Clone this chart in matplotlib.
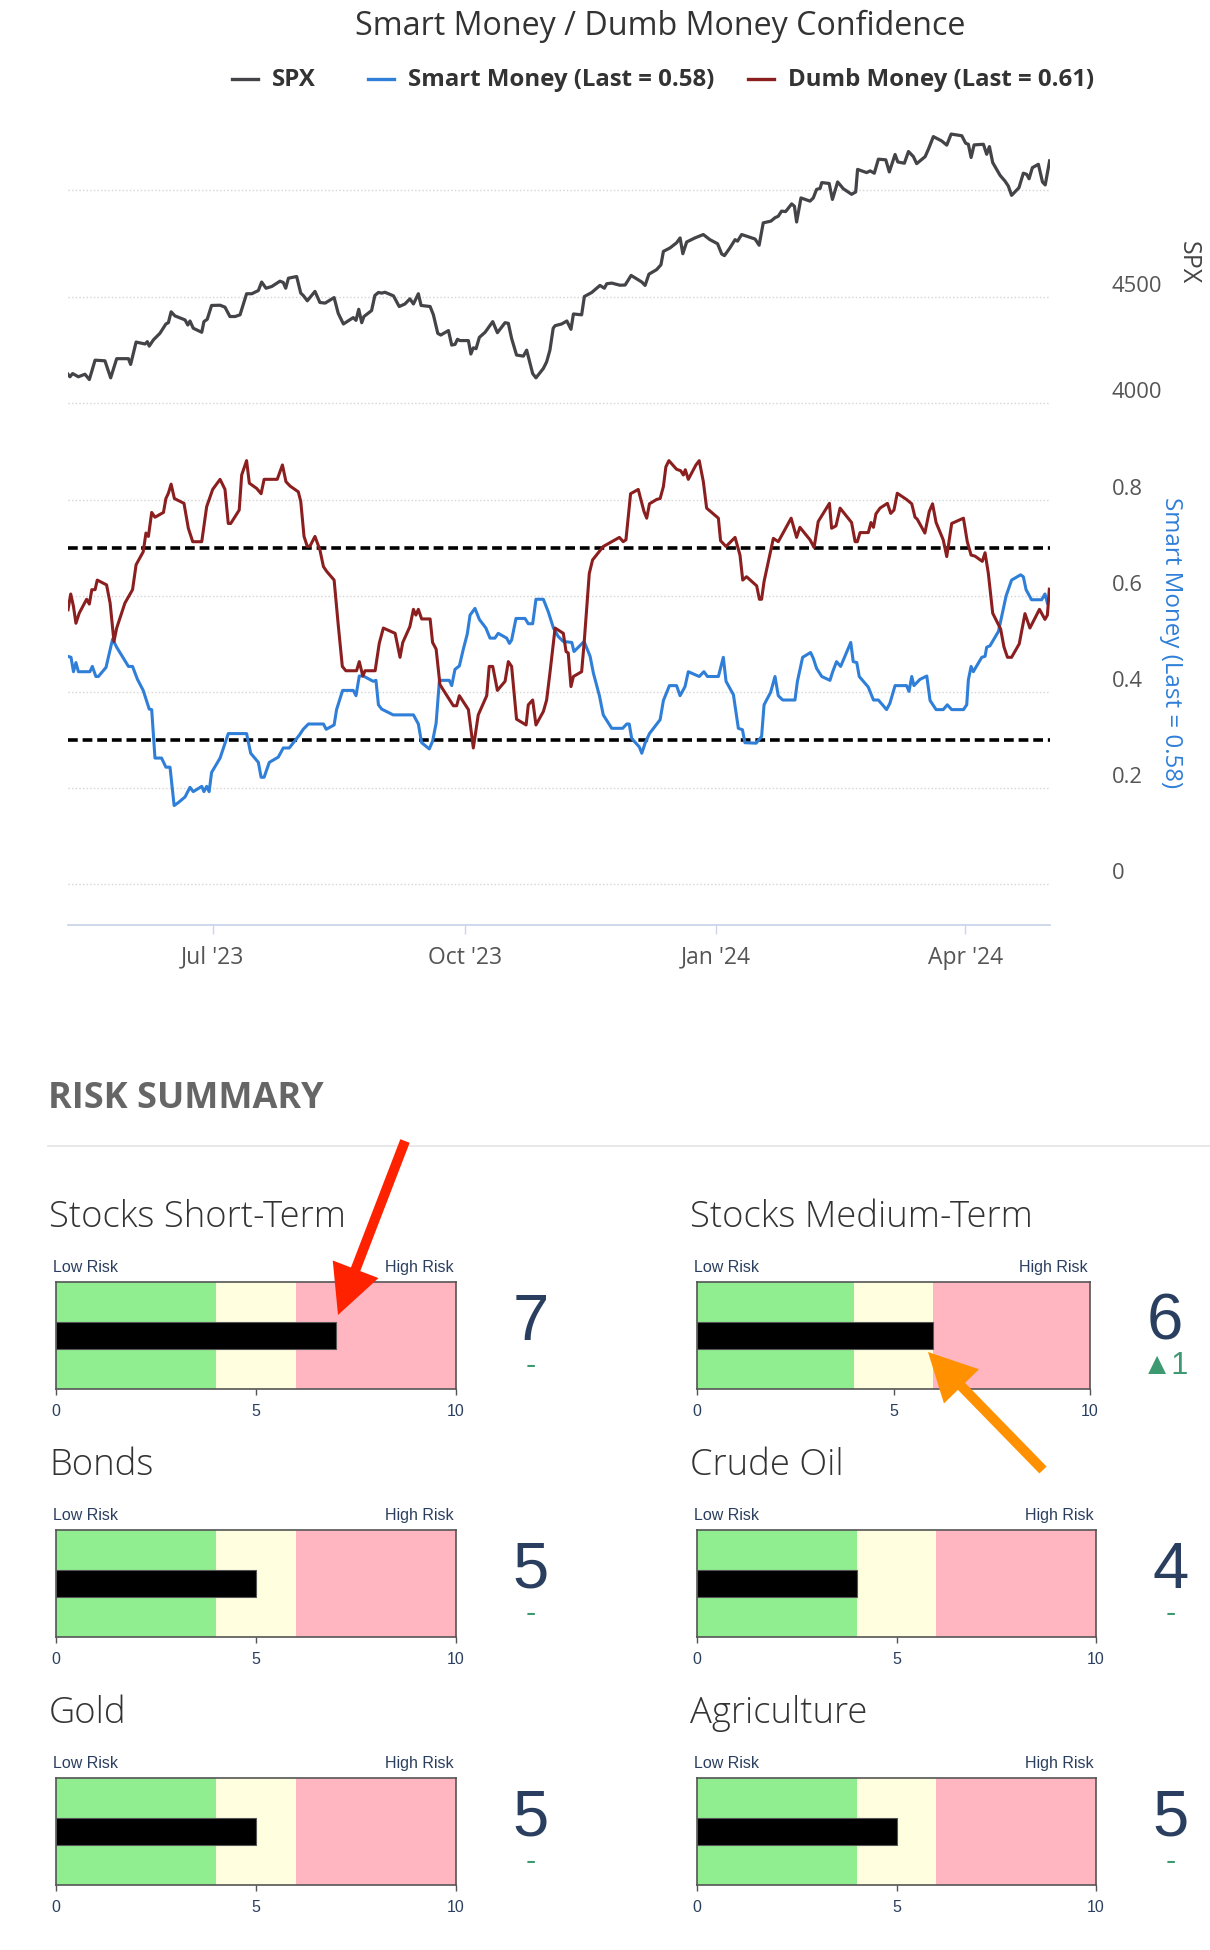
import numpy as np
import matplotlib
matplotlib.use("Agg")
import matplotlib.pyplot as plt
import matplotlib.dates as mdates
from matplotlib.patches import FancyArrow
from matplotlib.lines import Line2D

W, H = 1210, 1950
start = np.datetime64("2023-05-09")

# days after start / values
spx_day = [0.0, 0.7, 1.7, 3.8, 6.2, 7.8, 9.9, 13.5, 15.6, 17.8, 22.1, 22.9, 24.9, 28.2, 29.0, 29.7,
           31.2, 33.6, 35.8, 36.7, 37.7, 39.1, 42.8, 43.8, 44.6, 45.8, 48.9, 49.7, 50.9, 52.5, 55.6,
           57.4, 59.2, 61.1, 62.9, 65.3, 67.2, 69.6, 70.8, 72.4, 74.5, 77.5, 78.7, 79.6, 80.6, 83.6,
           85.1, 86.0, 87.5, 90.3, 92.1, 94.0, 97.3, 98.8, 100.7, 104.3, 105.3, 106.3, 107.4, 108.2,
           111.0, 112.2, 113.5, 114.7, 115.9, 119.0, 121.1, 123.2, 125.0, 126.3, 128.1, 129.1, 132.4,
           133.6, 135.2, 136.3, 139.1, 140.3, 141.5, 142.4, 143.3, 146.4, 147.3, 148.2, 149.2, 150.4,
           152.5, 155.3, 157.0, 159.8, 161.0, 162.2, 164.0, 166.5, 167.7, 169.9, 171.1, 173.8, 175.0,
           176.2, 177.4,
           178.1, 180.5, 182.4, 183.9, 184.8, 187.8, 188.8, 191.5, 194.5, 196.1, 197.0, 198.8, 201.8,
           203.7, 205.9, 209.8, 211.0, 212.4, 215.2, 216.8, 217.7, 220.1, 222.5, 223.8, 224.8, 226.2,
           229.2, 232.3, 234.7, 237.5, 239.0, 240.0, 242.0, 243.9, 244.8, 246.3, 247.5, 251.2, 252.7,
           254.2, 257.0, 258.5, 259.7, 260.9, 262.4, 264.6, 265.6, 266.4, 268.0, 271.3, 272.5, 273.7,
           275.0, 275.6, 278.3, 279.5, 281.4, 283.5, 286.5, 288.0, 288.7, 292.0, 293.3, 294.8, 296.3,
           299.0, 300.3, 302.4, 303.4, 305.8, 307.3, 309.1, 310.3, 313.4, 314.6, 316.4, 319.4, 321.3,
           322.9, 326.8, 328.2, 329.2, 330.2, 331.3, 334.7, 335.9, 336.9, 338.1, 340.8, 342.6, 343.8,
           345.0, 347.7, 349.3, 350.5, 351.4, 352.6, 354.8, 356.3, 357.3, 358.9]
spx = [4135, 4123, 4138, 4123, 4135, 4110, 4201, 4198, 4118, 4208, 4208, 4181, 4286, 4277, 4288, 4267,
       4296, 4327, 4371, 4377, 4428, 4409, 4390, 4366, 4385, 4351, 4332, 4382, 4393, 4458, 4459,
       4450, 4406, 4406, 4414, 4513, 4513, 4528, 4568, 4539, 4547, 4572, 4566, 4539, 4586, 4594,
       4516, 4505, 4480, 4524, 4472, 4469, 4495, 4421, 4371, 4401, 4388, 4440, 4377, 4406,
       4434, 4505, 4519, 4516, 4520, 4503, 4453, 4465, 4489, 4465, 4513, 4458, 4453,
       4414, 4327, 4319, 4340, 4272, 4275, 4299, 4293, 4293, 4230, 4259, 4255, 4308,
       4332, 4382, 4330, 4377, 4374, 4303, 4225, 4220, 4248, 4138, 4118, 4162, 4193,
       4248, 4351,
       4363, 4371, 4385, 4346, 4418, 4414, 4500, 4519, 4552, 4539, 4560, 4563, 4553,
       4554, 4599, 4568, 4552, 4605, 4626, 4649, 4712, 4728, 4752, 4775, 4701, 4756,
       4775, 4791, 4767, 4748, 4700, 4692, 4728, 4767, 4760, 4791, 4786, 4770, 4741,
       4846, 4854, 4870, 4877, 4901, 4899, 4935, 4924, 4850, 4963, 4948, 4963, 5003,
       5008, 5035, 5031, 4956, 5038, 5006, 4980, 4991, 5097, 5082, 5090, 5079, 5145,
       5142, 5085, 5167, 5132, 5126, 5181, 5157, 5124, 5157, 5192, 5251, 5231, 5211,
       5263, 5255, 5220, 5215, 5153, 5212, 5215, 5168, 5204, 5129, 5069, 5042, 5019,
       4975, 5011, 5079, 5074, 5053, 5105, 5121, 5038, 5024, 5137]

smart_day = [0.0, 1.1, 2.0, 2.9, 3.8, 8.0, 8.9, 10.2, 11.1, 13.9, 16.3, 17.8, 22.1, 23.6, 25.4, 27.5,
             29.7, 30.6, 31.8, 34.2, 35.8, 37.3, 38.8, 40.3, 42.8, 44.6, 45.8, 48.9, 49.7, 50.7, 51.6,
             52.5, 55.6, 58.6, 65.3, 66.8, 69.6, 70.6, 71.7, 73.6, 76.9, 78.7, 80.9, 84.6, 86.0, 87.9,
             88.5, 93.4, 94.4, 97.3, 98.2, 100.4, 104.3, 105.3, 106.5, 108.0, 111.6, 112.6, 113.5,
             114.7, 118.9, 126.3, 128.1, 129.3, 132.1, 133.3, 134.6, 135.8, 139.4, 140.3, 141.5, 143.1,
             144.5, 146.0, 147.0, 148.8, 150.4, 152.8, 154.3, 156.1, 157.3, 160.4, 161.4, 162.2, 163.8,
             167.1, 168.3, 169.9, 171.1, 173.8, 175.6, 177.5, 179.3,
             181.1, 184.2, 185.0, 188.7, 190.9, 192.1, 194.3, 195.7, 198.8, 202.8, 204.3, 205.2, 206.1,
             208.9, 209.8, 211.0, 212.6, 216.5, 217.7, 219.9, 222.5, 223.8, 225.6, 226.8, 230.8, 232.5,
             233.8, 237.8, 239.6, 240.6, 243.3, 245.1, 246.6, 247.5, 251.6, 253.6, 254.5, 256.9, 258.5,
             259.7, 261.3, 265.8, 266.7, 268.6, 271.5,
             272.5, 273.7, 275.6, 278.6, 279.6, 281.0, 282.5, 286.2, 287.1, 288.4, 289.3, 292.6, 294.5,
             296.3, 299.3, 300.5, 302.4, 306.6, 307.5, 308.5, 309.3, 311.5, 314.0, 315.2, 317.4, 320.0,
             321.5, 323.1, 327.4, 328.6, 329.2, 330.2, 331.0, 334.1, 335.3, 335.9, 337.1, 340.2, 343.0,
             345.0, 348.3, 349.3, 350.3, 352.3, 356.0, 357.2, 358.1]
smart = [0.474, 0.472, 0.442, 0.461, 0.442, 0.442, 0.453, 0.432, 0.432, 0.451, 0.510, 0.493, 0.453, 0.453,
         0.426, 0.403, 0.364, 0.363, 0.262, 0.262, 0.243, 0.243, 0.163, 0.169, 0.181, 0.201, 0.192, 0.203,
         0.192, 0.203, 0.192, 0.232, 0.262, 0.313, 0.313, 0.272, 0.253, 0.222, 0.222, 0.253, 0.264, 0.283,
         0.283, 0.310, 0.322, 0.333,
         0.333, 0.333, 0.322, 0.331, 0.363, 0.403, 0.403, 0.392, 0.433, 0.433, 0.422, 0.424, 0.373, 0.364,
         0.352, 0.352, 0.333, 0.294, 0.281, 0.297, 0.335, 0.424, 0.424, 0.413, 0.447, 0.454, 0.488, 0.521,
         0.560, 0.574, 0.551, 0.533, 0.512, 0.512, 0.522, 0.512, 0.501, 0.508, 0.553, 0.553, 0.542, 0.542,
         0.593, 0.593, 0.567, 0.533, 0.515,
         0.505, 0.503, 0.484, 0.505, 0.474, 0.439, 0.392, 0.352, 0.324, 0.324, 0.333, 0.333, 0.303, 0.285,
         0.272, 0.293, 0.313, 0.342, 0.382, 0.413, 0.413, 0.392, 0.411, 0.442, 0.432, 0.442, 0.432, 0.432,
         0.472, 0.422, 0.394, 0.324, 0.321, 0.294, 0.293, 0.307, 0.373, 0.399, 0.432, 0.392, 0.383, 0.383,
         0.422, 0.472, 0.482,
         0.470, 0.449, 0.432, 0.424, 0.442, 0.463, 0.453, 0.503, 0.463, 0.461, 0.432, 0.410, 0.383, 0.383,
         0.363, 0.376, 0.413, 0.413, 0.401, 0.432, 0.413, 0.426, 0.433, 0.382, 0.363, 0.363, 0.373, 0.363,
         0.363, 0.373, 0.425, 0.453, 0.442, 0.472, 0.474, 0.493, 0.496, 0.526, 0.600, 0.633, 0.644, 0.640,
         0.613, 0.592, 0.592, 0.604, 0.585]

dumb_day = [0.0, 1.0, 2.0, 2.9, 4.1, 6.8, 7.8, 8.7, 9.9, 10.7, 14.1, 15.4, 16.8, 17.8, 20.8, 23.6, 24.9,
            27.5, 28.5, 29.4, 30.6, 31.8, 34.9, 35.8, 36.7, 37.7, 38.9, 42.4, 44.0, 45.6, 48.9, 50.7,
            52.9, 55.6, 57.4, 58.6, 59.5, 62.6, 63.5, 65.3, 66.3, 69.0, 70.6, 71.7, 76.5, 78.4, 79.7,
            81.2, 84.2, 85.1, 86.3, 87.5,
            88.5, 90.3, 92.1, 93.4, 94.6, 97.3, 98.8, 100.3, 101.6, 105.5, 106.5, 107.8, 108.6, 112.3,
            113.8, 115.3, 119.6, 121.4, 122.4, 125.0, 126.3, 127.2, 128.1, 129.3, 132.4, 133.3, 134.6,
            136.0, 140.9, 142.1, 143.1, 146.4, 148.2, 150.0, 153.1, 154.0, 155.3, 157.0, 159.8, 161.0,
            162.2, 164.0, 167.5, 168.3, 169.9, 171.1, 173.8, 175.0, 176.2, 178.1, 181.1,
            182.1, 182.9, 183.9, 184.8, 187.8, 188.7, 189.6, 190.6, 191.8, 195.7, 198.2, 201.6, 203.0,
            204.0, 205.7, 208.5, 210.6, 211.6, 212.6, 215.2, 216.5, 217.7, 218.6, 219.7, 222.5, 224.0,
            225.0, 225.7, 226.8, 229.6, 230.8, 232.3, 233.5, 237.8, 238.6, 240.6, 243.9, 245.7, 246.7,
            248.1, 251.8, 252.8, 253.6, 254.5, 257.9, 259.7, 264.4, 266.4, 267.6,
            271.3, 272.8, 274.3, 278.4, 279.2, 280.8, 282.3, 286.5, 287.8, 288.6, 289.6, 292.6, 293.6,
            294.5, 295.4, 296.9, 299.6, 300.8, 302.0, 303.2, 306.6, 308.5, 309.7, 310.5, 313.3, 314.9,
            316.1, 317.4, 320.0, 321.3, 323.1, 327.4, 328.8, 330.2, 331.6, 334.3, 335.3, 336.5, 338.1,
            341.0, 342.2, 343.5, 345.0, 347.8, 349.9, 351.7, 355.2, 357.2, 358.1, 358.8]
dumb = [0.571, 0.604, 0.578, 0.543, 0.564, 0.593, 0.583, 0.613, 0.613, 0.633, 0.623, 0.585, 0.505, 0.533,
        0.585, 0.613, 0.665, 0.692, 0.731, 0.724, 0.774, 0.764, 0.774, 0.803, 0.814, 0.833, 0.803, 0.793,
        0.741, 0.713, 0.713, 0.786, 0.822, 0.843, 0.822, 0.751, 0.751, 0.779, 0.852, 0.882, 0.835, 0.824,
        0.813, 0.843, 0.843, 0.873, 0.838, 0.829, 0.817, 0.797, 0.724, 0.703,
        0.704, 0.724, 0.696, 0.661, 0.651, 0.633, 0.540, 0.453, 0.444, 0.444, 0.463, 0.433, 0.444, 0.444,
        0.501, 0.533, 0.522, 0.472, 0.503, 0.536, 0.572, 0.560, 0.572, 0.552, 0.552, 0.503, 0.489, 0.415,
        0.371, 0.371, 0.392, 0.363, 0.283, 0.352, 0.392, 0.453, 0.453, 0.403, 0.422, 0.463, 0.453, 0.343,
        0.331, 0.373, 0.383, 0.331, 0.359, 0.383, 0.439, 0.533, 0.522,
        0.484, 0.481, 0.411, 0.432, 0.442, 0.501, 0.571, 0.647, 0.675, 0.703, 0.711, 0.722, 0.713, 0.717,
        0.813, 0.822, 0.776, 0.762, 0.792, 0.801, 0.803, 0.828, 0.869, 0.882, 0.864, 0.861, 0.852, 0.863,
        0.843, 0.873, 0.882, 0.838, 0.783, 0.762, 0.715, 0.703, 0.722, 0.685, 0.633, 0.640, 0.621, 0.593,
        0.593, 0.630, 0.720, 0.713, 0.762, 0.722, 0.743,
        0.717, 0.701, 0.755, 0.793, 0.741, 0.746, 0.783, 0.753, 0.713, 0.713, 0.732, 0.732, 0.753, 0.743,
        0.771, 0.783, 0.793, 0.772, 0.779, 0.814, 0.801, 0.792, 0.764, 0.760, 0.731, 0.776, 0.792, 0.753,
        0.717, 0.682, 0.751, 0.762, 0.713, 0.685, 0.683, 0.672, 0.690, 0.647, 0.564, 0.531, 0.494, 0.472,
        0.472, 0.500, 0.563, 0.533, 0.572, 0.551, 0.560, 0.614]

month_ticks = ["2023-07-01", "2023-10-01", "2024-01-01", "2024-04-01"]
month_labels = ["Jul '23", "Oct '23", "Jan '24", "Apr '24"]
spx_ticks = [4000, 4500, 5000]
spx_tick_labels = ["4000", "4500", ""]
conf_ticks = [0, 0.2, 0.4, 0.6, 0.8]
conf_tick_labels = ["0", "0.2", "0.4", "0.6", "0.8"]
extreme_levels = [0.3, 0.7]

risk_names = ["Stocks Short-Term", "Stocks Medium-Term", "Bonds", "Crude Oil", "Gold", "Agriculture"]
risk_values = [7, 6, 5, 4, 5, 5]
risk_delta = [0, 1, 0, 0, 0, 0]
band_edges = [0, 4, 6, 10]
band_colors = ["#90ee90", "#ffffe0", "#ffb6c1"]

C_SPX, C_SMART, C_DUMB = "#434348", "#2f7fd8", "#8b1f1f"
NAVY = "#2a3f5f"
plt.rcParams["font.family"] = ["Open Sans", "DejaVu Sans"]

fig = plt.figure(figsize=(W / 100, H / 100), dpi=100)


def px_axes(x0, y0, x1, y1, **kw):
    return fig.add_axes([x0 / W, 1 - y1 / H, (x1 - x0) / W, (y1 - y0) / H], **kw)


def ftext(x, y, s, **kw):
    return fig.text(x / W, 1 - y / H, s, **kw)


PL, PR = 68, 1050
x0 = mdates.date2num(start)
xlim = (x0, x0 + (PR - PL) / 2.735)
grid_kw = dict(color="#d4d4d4", lw=1.0, ls=(0, (1, 1.6)), zorder=0)
lab_x = (1112 - PL) / (PR - PL)

# --- title and legend
ftext(660, 35, "Smart Money / Dumb Money Confidence", fontsize=23.2, color="#333333",
      ha="center", va="baseline")
legend_items = [("SPX", C_SPX, 232), ("Smart Money (Last = 0.58)", C_SMART, 368),
                ("Dumb Money (Last = 0.61)", C_DUMB, 748)]
for lab, col, lx in legend_items:
    fig.add_artist(Line2D([lx / W, (lx + 26) / W], [1 - 79 / H] * 2, color=col, lw=2.4))
    ftext(lx + 40, 86, lab, fontsize=17.3, fontweight="bold", color="#333333", va="baseline")

# --- SPX pane
ax1 = px_axes(PL, 120, PR, 420)
ax1.plot(x0 + np.array(spx_day), spx, color=C_SPX, lw=2.3, zorder=3)
ax1.set_xlim(*xlim)
ax1.set_ylim(3920, 5329)
for v, lab in zip(spx_ticks, spx_tick_labels):
    ax1.axhline(v, **grid_kw)
    ax1.annotate(lab, xy=(lab_x, v), xycoords=("axes fraction", "data"), xytext=(0, 7.5),
                 textcoords="offset points", ha="left", va="center", fontsize=15.8,
                 color="#555555", annotation_clip=False)
ax1.axis("off")
ftext(1188, 263, "SPX", rotation=-90, fontsize=18, color="#444444", ha="center", va="center")

# --- Smart / Dumb pane
ax2 = px_axes(PL, 440, PR, 925)
xs = x0 + np.array(smart_day)
xd = x0 + np.array(dumb_day)
for v, lab in zip(conf_ticks, conf_tick_labels):
    ax2.axhline(v, **grid_kw)
    ax2.annotate(lab, xy=(lab_x, v), xycoords=("axes fraction", "data"), xytext=(0, 7.5),
                 textcoords="offset points", ha="left", va="center", fontsize=15.8,
                 color="#555555", annotation_clip=False)
for v in extreme_levels:
    ax2.axhline(v, color="black", lw=2.6, ls=(0, (2.7, 1.35)), zorder=1)
ax2.plot(xs, smart, color=C_SMART, lw=2.2, zorder=3)
ax2.plot(xd, dumb, color=C_DUMB, lw=2.2, zorder=3)
ax2.set_xlim(*xlim)
ax2.set_ylim(-0.086, 0.925)
for s in ["top", "left", "right"]:
    ax2.spines[s].set_visible(False)
ax2.spines["bottom"].set_color("#ccd6eb")
ax2.spines["bottom"].set_linewidth(1.3)
ax2.set_yticks([])
ax2.set_xticks([mdates.date2num(np.datetime64(d)) for d in month_ticks])
ax2.set_xticklabels(month_labels)
ax2.tick_params(axis="x", direction="out", length=6.5, width=1, color="#ccd6eb",
                labelsize=16.5, labelcolor="#555555", pad=8.5)
ax2.set_facecolor("none")
ftext(1171, 643, "Smart Money (Last = 0.58)", rotation=-90, fontsize=17.4, color=C_SMART,
      ha="center", va="center")

# --- risk summary
ftext(48, 1108, "RISK SUMMARY", fontsize=26, fontweight="bold", color="#666666", va="baseline")
fig.add_artist(Line2D([48 / W, 1.0], [1 - 1146 / H] * 2, color="#e6e6e6", lw=1.3))

sans = ["Liberation Sans", "DejaVu Sans"]
for i, name in enumerate(risk_names):
    col, row = i % 2, i // 2
    bx0 = 56 if col == 0 else 697
    bx1 = 456 if col == 0 else (1090 if row == 0 else 1096)
    by0 = 1282 + 248 * row
    by1 = by0 + 107
    ax = px_axes(bx0, by0, bx1, by1)
    ax.barh(0.5, np.diff(band_edges), left=band_edges[:-1], height=1.0, color=band_colors, lw=0)
    ax.barh(0.5, risk_values[i], height=0.243, color="black", edgecolor="#555555", lw=0.8)
    ax.set_xlim(band_edges[0], band_edges[-1])
    ax.set_ylim(0, 1)
    for s in ax.spines.values():
        s.set_color("#555555")
        s.set_linewidth(1.2)
    ax.set_yticks([])
    ax.set_xticks([0, 5, 10])
    ax.tick_params(axis="x", length=4, width=1, color="#555555", labelsize=11.5,
                   labelcolor=NAVY, pad=6.5)
    for t in ax.get_xticklabels():
        t.set_family(sans)
    ax.text(-0.008, 1.14, "Low Risk", transform=ax.transAxes, ha="left", va="center",
            fontsize=11.5, color=NAVY, family=sans)
    ax.text(0.993, 1.14, "High Risk", transform=ax.transAxes, ha="right", va="center",
            fontsize=11.5, color=NAVY, family=sans)
    ftext(bx0 - 7, by0 - 55, name, fontsize=26.2, fontweight="light", color="#333333",
          va="baseline")
    ftext(bx1 + 75, by0 + 58, str(risk_values[i]), fontsize=47, color=NAVY, ha="center",
          va="baseline", family=sans)
    d = risk_delta[i]
    dtxt = "-" if d == 0 else ("\u25b2%d" % d if d > 0 else "\u25bc%d" % -d)
    ftext(bx1 + 75, by0 + 92, dtxt, fontsize=22, color="#3d9970", ha="center",
          va="baseline", family=sans)

# --- annotation arrows
ov = fig.add_axes([0, 0, 1, 1], zorder=10)
ov.set_xlim(0, W)
ov.set_ylim(H, 0)
ov.axis("off")
ov.add_patch(FancyArrow(405, 1141, 338 - 405, 1315 - 1141, width=10, head_width=49,
                        head_length=49, length_includes_head=True, color="#ff2200", lw=0))
ov.add_patch(FancyArrow(1043, 1470, 928 - 1043, 1352 - 1470, width=10, head_width=49,
                        head_length=48, length_includes_head=True, color="#ff9100", lw=0))

fig.savefig("out.png", dpi=100)
